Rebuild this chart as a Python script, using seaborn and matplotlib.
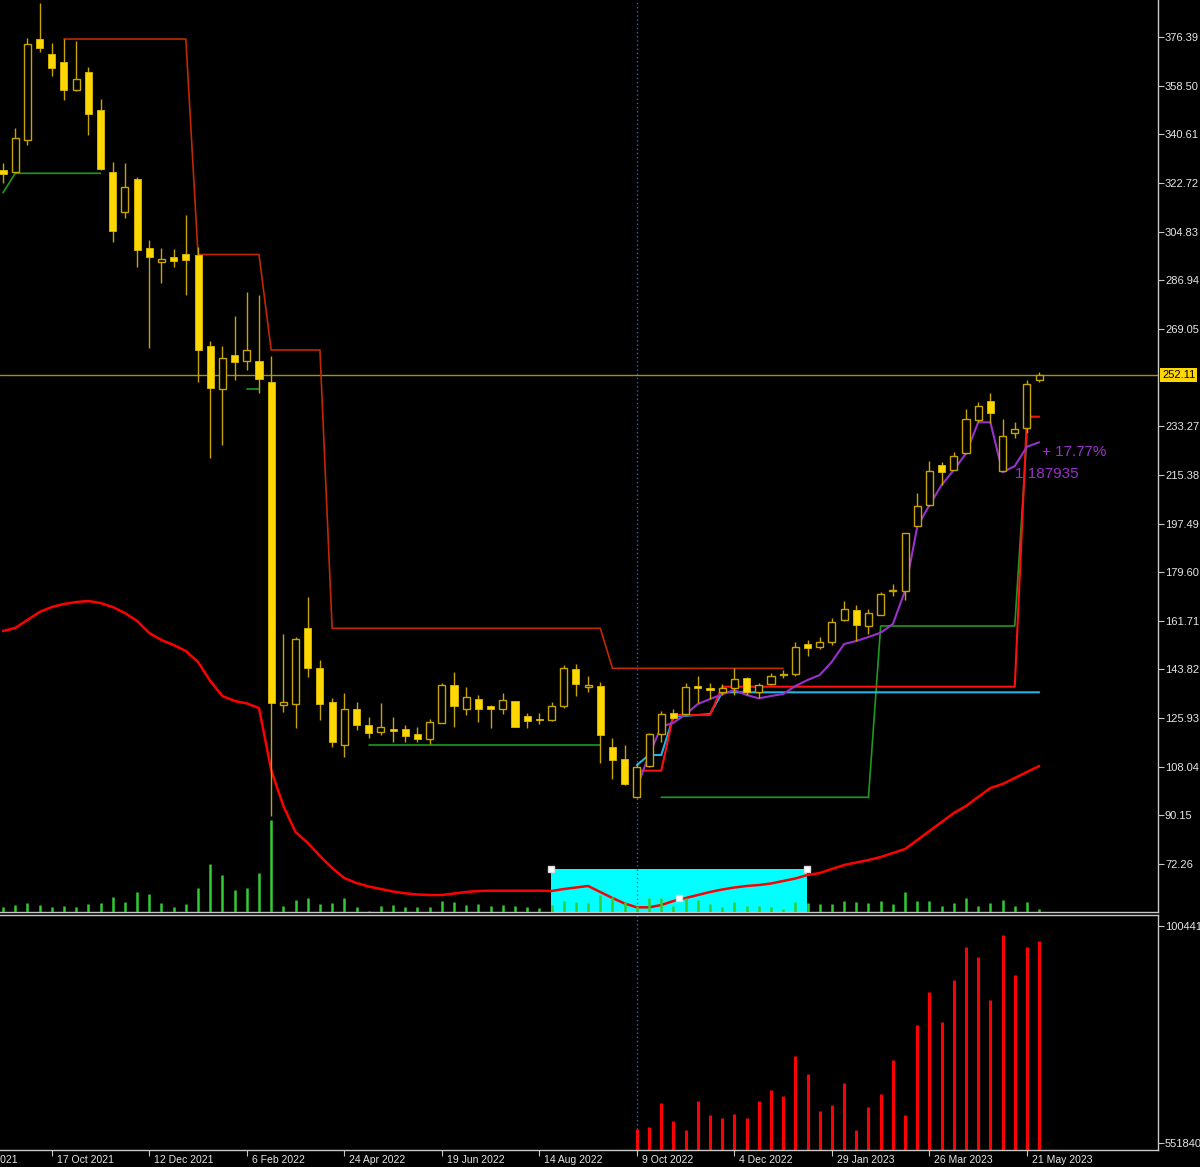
import numpy as np
import pandas as pd
import matplotlib
matplotlib.use("Agg")
import matplotlib.pyplot as plt
import matplotlib.transforms as mtransforms
from matplotlib.patches import Rectangle
import seaborn as sns

# weekly bars, bar 0 = week of 19 Sep 2021 (the exchange was shut for 3 weeks in 2022)
opens = [327.5, 326.8, 338.5, 375.7, 370.1, 367.2, 356.9, 363.5, 349.6, 326.8,
         312.0, 324.2, 298.8, 293.7, 295.5, 296.6, 296.2, 262.8, 247.0, 259.5,
         257.3, 257.3, 249.5, 130.9, 131.0, 159.0, 144.5, 131.9, 116.0, 129.4,
         123.5, 120.7, 121.8, 122.0, 120.0, 118.4, 124.2, 138.0, 129.3, 133.0,
         130.5, 129.3, 132.1, 126.7, 125.4, 125.1, 130.3, 143.9, 137.3, 137.7,
         115.4, 110.9, 96.8, 108.3, 120.1, 127.7, 127.3, 137.7, 136.9, 135.4,
         136.9, 140.6, 135.4, 138.4, 141.6, 142.1, 153.1, 152.1, 153.8, 162.0,
         165.7, 159.8, 164.0, 172.5, 172.8, 196.6, 204.2, 218.9, 217.3, 223.3,
         235.6, 242.7, 216.9, 230.8, 232.5, 250.3]
highs = [330.1, 342.9, 376.0, 388.9, 374.2, 375.7, 374.9, 365.4, 353.6, 330.4,
         330.1, 324.9, 301.7, 298.8, 298.4, 310.9, 299.2, 264.6, 262.8, 273.8,
         282.6, 281.5, 259.1, 156.7, 155.8, 170.5, 147.3, 133.3, 135.1, 132.0,
         126.2, 131.6, 126.5, 123.4, 122.8, 125.5, 138.7, 142.9, 137.5, 134.4,
         130.6, 135.3, 132.2, 127.7, 127.7, 132.0, 145.5, 145.7, 141.5, 139.3,
         118.5, 116.0, 109.5, 120.4, 128.5, 129.2, 138.7, 141.4, 138.7, 138.4,
         144.3, 140.9, 138.7, 142.6, 143.5, 153.8, 154.7, 155.9, 162.9, 169.1,
         167.5, 166.0, 172.4, 175.3, 194.0, 208.6, 220.5, 220.2, 223.8, 239.5,
         242.3, 245.6, 235.9, 234.9, 250.3, 253.3]
lows = [322.7, 326.5, 336.7, 370.9, 362.1, 353.2, 356.5, 340.4, 327.5, 301.0,
        309.8, 291.8, 262.0, 285.9, 291.8, 281.5, 249.5, 221.6, 226.4, 250.3,
        253.9, 245.5, 89.9, 128.2, 122.3, 141.2, 125.2, 115.4, 111.5, 121.6,
        118.5, 119.7, 117.0, 117.0, 117.0, 116.3, 124.0, 122.8, 127.1, 124.4,
        122.4, 127.4, 122.5, 122.4, 123.7, 124.9, 129.8, 134.2, 135.4, 109.3,
        103.4, 101.5, 96.6, 108.1, 117.2, 125.7, 127.1, 131.4, 132.9, 134.4,
        134.4, 134.4, 133.2, 138.2, 140.6, 141.5, 148.9, 151.5, 152.8, 161.5,
        154.3, 156.9, 163.7, 170.8, 169.4, 196.4, 204.0, 211.5, 217.1, 223.1,
        234.7, 234.6, 216.7, 228.8, 230.7, 249.6]
closes = [326.0, 339.3, 373.8, 372.4, 365.0, 356.9, 361.0, 348.1, 327.9, 305.1,
          321.2, 298.1, 295.5, 294.8, 294.0, 294.4, 261.3, 247.3, 258.4, 256.9,
          261.3, 250.6, 131.5, 131.9, 155.0, 144.3, 131.0, 117.2, 129.4, 123.3,
          120.6, 122.6, 121.3, 119.4, 118.4, 124.4, 138.0, 130.4, 133.6, 129.3,
          129.3, 132.5, 122.8, 125.0, 125.1, 130.5, 144.3, 138.5, 138.0, 119.7,
          110.4, 101.7, 108.1, 120.0, 127.3, 125.9, 137.5, 137.1, 136.4, 136.9,
          140.2, 135.4, 138.2, 141.5, 142.0, 152.0, 151.6, 153.8, 161.4, 166.0,
          160.2, 164.6, 171.6, 173.0, 193.9, 204.0, 216.9, 216.5, 222.2, 235.8,
          240.8, 238.1, 229.8, 232.1, 248.8, 252.11]
last_price = 252.11

# tick volume (thousands)
volume = [5.3, 7.0, 9.3, 6.7, 4.7, 6.0, 4.7, 7.7, 8.7, 14.7,
          10.0, 20.0, 18.3, 9.3, 4.7, 7.7, 23.7, 48.0, 36.7, 22.0,
          23.7, 38.7, 92.0, 6.0, 11.7, 13.7, 7.7, 9.3, 13.7, 4.7,
          1.3, 6.0, 6.7, 5.3, 4.7, 5.3, 10.7, 10.0, 6.7, 7.7,
          6.0, 6.7, 6.0, 5.3, 4.0, 7.0, 11.3, 10.3, 9.0, 17.0,
          15.3, 10.3, 6.0, 13.7, 13.7, 6.0, 13.7, 12.0, 8.0, 4.7,
          9.7, 6.3, 6.3, 5.3, 2.7, 9.7, 9.0, 7.7, 8.3, 11.3,
          10.0, 8.7, 10.7, 7.7, 20.0, 11.3, 11.3, 6.3, 9.3, 14.3,
          6.3, 8.7, 12.3, 6.3, 9.7, 2.7]

# lower band (red curve in the price window)
lower_band = [157.96, 159.06, 162.0, 164.95, 166.78, 167.89, 168.62, 168.99, 168.25, 166.78,
              164.58, 161.64, 157.22, 154.65, 152.81, 150.6, 146.56, 139.57, 134.06, 132.22,
              131.33, 129.64, 106.84, 93.61, 84.04, 80.0, 75.22, 70.81, 67.13, 65.29,
              64.0, 63.08, 62.16, 61.5, 61.06, 60.88, 60.88, 61.43, 61.98, 62.35,
              62.46, 62.46, 62.46, 62.46, 62.46, 62.35, 63.08, 63.64, 64.19, 61.98,
              59.77, 57.75, 56.35, 56.35, 57.2, 58.67, 59.77, 60.88, 61.98, 62.9,
              63.64, 64.19, 64.55, 65.11, 66.03, 66.95, 68.23, 68.97, 70.44, 71.91,
              72.83, 73.75, 74.85, 76.32, 77.79, 81.1, 84.41, 87.72, 91.03, 93.61,
              96.92, 100.22, 101.7, 103.9, 106.11, 108.32]

nan = np.nan
# channel stop (dark red)
resist = ([nan] * 5 + [375.65] * 11 + [296.41] * 6 + [261.29] * 5
          + [158.95] * 23 + [144.24] * 15 + [nan] * 21)
# support steps (green)
support = ([319.1] + [326.27] * 8 + [nan] * 11 + [246.95] * 2 + [nan] * 8
           + [116.15] * 20 + [nan] * 4 + [96.81] * 18 + [159.8] * 12 + [230.0, nan])
# trailing lines from the Oct 2022 low
trail_red = [nan] * 52 + [106.59] * 3 + [127.07] * 4 + [137.48] * 25 + [236.76] * 2
trail_blue = [nan] * 52 + [108.68, 112.36, 112.36, 126.5, 126.8, 127.1, 127.4] + [135.42] * 27
trail_purple = [nan] * 52 + [100.48, 112.36, 122.77, 124.24, 127.33, 131.11, 132.95, 134.68,
                             136.26, 134.43, 133.21, 134.06, 134.79, 137.73, 139.94, 141.78,
                             146.67, 153.18, 154.28, 155.75, 157.33, 160.53, 172.78, 196.31,
                             204.29, 211.65, 217.16, 223.3, 234.7, 234.7, 216.32, 218.63,
                             225.73, 227.35]

# lower window histogram
hist = [nan] * 52 + [20.7, 23.3, 46.7, 29.0, 20.0, 49.3, 35.0, 32.0, 35.7, 32.0,
                     49.3, 60.0, 54.0, 94.3, 75.7, 39.3, 44.7, 67.3, 20.0, 43.3,
                     55.7, 90.0, 34.7, 125.0, 158.0, 128.0, 170.0, 203.0, 193.0, 150.0,
                     215.0, 175.0, 203.0, 209.0]

price_ticks = [376.39, 358.50, 340.61, 322.72, 304.83, 286.94, 269.05, 233.27, 215.38,
               197.49, 179.60, 161.71, 143.82, 125.93, 108.04, 90.15, 72.26]
date_ticks = [-4, 4, 12, 20, 28, 36, 44, 52, 60, 68, 76, 84]
date_labels = ["22 Aug 2021", "17 Oct 2021", "12 Dec 2021", "6 Feb 2022", "24 Apr 2022",
               "19 Jun 2022", "14 Aug 2022", "9 Oct 2022", "4 Dec 2022", "29 Jan 2023",
               "26 Mar 2023", "21 May 2023"]
sub_labels = ["100441", "551840"]

WICK = "#C8A400"
BODY = "#FFD700"
AXIS = "#C8C8C8"
TXT = "#E6E6E6"

sns.set_theme(style="dark", rc={"axes.facecolor": "black", "figure.facecolor": "black",
                                "axes.grid": False})
plt.rcParams["font.family"] = ["Liberation Sans", "DejaVu Sans"]


def draw_runs(ax, values, color, lw, zorder):
    s = pd.Series(values, dtype=float)
    ok = s.notna()
    groups = (~ok).cumsum()
    for _, run in s[ok].groupby(groups[ok]):
        if len(run) < 2:
            continue
        sns.lineplot(x=run.index.values, y=run.values, ax=ax, color=color,
                     lw=lw, zorder=zorder, legend=False)


fig = plt.figure(figsize=(12, 11.67), dpi=100)
W, H = 1200, 1167
ax = fig.add_axes([0, (H - 912) / H, 1158 / W, 912 / H])
ax_low = fig.add_axes([0, 17 / H, 1158 / W, 235 / H])
for a in (ax, ax_low):
    a.set_facecolor("black")

idx = np.arange(len(opens))
o = np.array(opens)
c = np.array(closes)
hi = np.array(highs)
lo = np.array(lows)
bull = c >= o

# cyan box drawn on the chart
ax.add_patch(Rectangle((44.93, 54.0), 21.0, 70.33 - 54.0, facecolor="#00FFFF",
                       edgecolor="none", zorder=1))
ax.plot([44.93, 65.93, 55.46], [70.33, 70.33, 59.9], ls="none", marker="s", ms=4,
        mfc="white", mec="#DDDDDD", zorder=9)

ax.axhline(last_price, color="#A89200", lw=1, zorder=2)
sns.lineplot(x=idx, y=lower_band, ax=ax, color="#FF0000", lw=1.8, zorder=3, legend=False)
draw_runs(ax, resist, "#C02800", 1.2, 3)
draw_runs(ax, support, "#1E9A1E", 1.2, 3)
draw_runs(ax, trail_blue, "#1EB4E6", 1.5, 4)
draw_runs(ax, trail_red, "#FF1010", 1.5, 4)
draw_runs(ax, trail_purple, "#9932CC", 1.5, 4)

# candles
body_lo = np.minimum(o, c)
body_h = np.maximum(np.abs(c - o), 0.45)
ax.vlines(idx, lo, hi, color=WICK, lw=1, zorder=5)
ax.bar(idx[~bull], body_h[~bull], bottom=body_lo[~bull], width=0.58, color=BODY,
       edgecolor="#E0BC00", lw=0.6, zorder=6)
ax.bar(idx[bull], body_h[bull], bottom=body_lo[bull], width=0.58, color="black",
       edgecolor=WICK, lw=1, zorder=6)

ax.text(85.23, 223.8, "+ 17.77%", color="#9932CC", fontsize=11, va="center",
        ha="left", zorder=3)
ax.text(83.0, 215.7, "1 187935", color="#9932CC", fontsize=11, va="center",
        ha="left", zorder=3)

# volume in the price window (scale: full window = 912 thousand)
ax_vol = ax.twinx()
ax_vol.vlines(idx, 0, volume, color="#32CD32", lw=1.8)
ax_vol.set_ylim(0, 912)
ax_vol.set_yticks([])
for sp in ax_vol.spines.values():
    sp.set_visible(False)

xl = (-0.246, 94.75)
ax.set_xlim(*xl)
ax.set_ylim(54.63, 390.0)
ax.set_xticks([])
ax.yaxis.tick_right()
ax.set_yticks(price_ticks, [f"{v:.2f}" for v in price_ticks])
ax.tick_params(axis="y", colors=AXIS, labelcolor=TXT, labelsize=8, length=4, pad=1,
               width=0.8, right=True, left=False)
ax.set_xlabel("")
ax.set_ylabel("")

trans = mtransforms.blended_transform_factory(ax.transAxes, ax.transData)
ax.text(1162 / 1158, last_price, f"{last_price:.2f}", transform=trans, fontsize=8,
        color="black", va="center", ha="left",
        bbox=dict(boxstyle="square,pad=0.15", facecolor="#FFD700", edgecolor="none"))

# lower window
ax_low.vlines(idx, 0, hist, color="#FF0000", lw=2.2)
ax_low.set_xlim(*xl)
ax_low.set_ylim(0, 235)
ax_low.yaxis.tick_right()
ax_low.set_yticks([224, 7], sub_labels)
ax_low.tick_params(axis="y", colors=AXIS, labelcolor=TXT, labelsize=8, length=4, pad=1,
                   width=0.8, right=True, left=False)
ax_low.set_xticks([t for t in date_ticks if t >= 0], [])
ax_low.tick_params(axis="x", colors=AXIS, length=4, width=0.8, bottom=True)

for a in (ax, ax_low):
    a.axvline(52, color="#2F66B8", lw=1, ls=(0, (1, 2)), zorder=2)
    for name, sp in a.spines.items():
        sp.set_visible(name != "left")
        sp.set_color(AXIS)
        sp.set_linewidth(1)
ax.spines["top"].set_visible(False)

dtrans = mtransforms.blended_transform_factory(ax_low.transData, ax_low.transAxes)
dtrans = dtrans + mtransforms.ScaledTranslation(5 / 100, 0, fig.dpi_scale_trans)
for t, lab in zip(date_ticks, date_labels):
    ax_low.text(t, -10 / 235, lab, transform=dtrans, fontsize=7.5, color=TXT,
                ha="left", va="center", clip_on=False)

fig.savefig("out.png", dpi=100, facecolor="black")
